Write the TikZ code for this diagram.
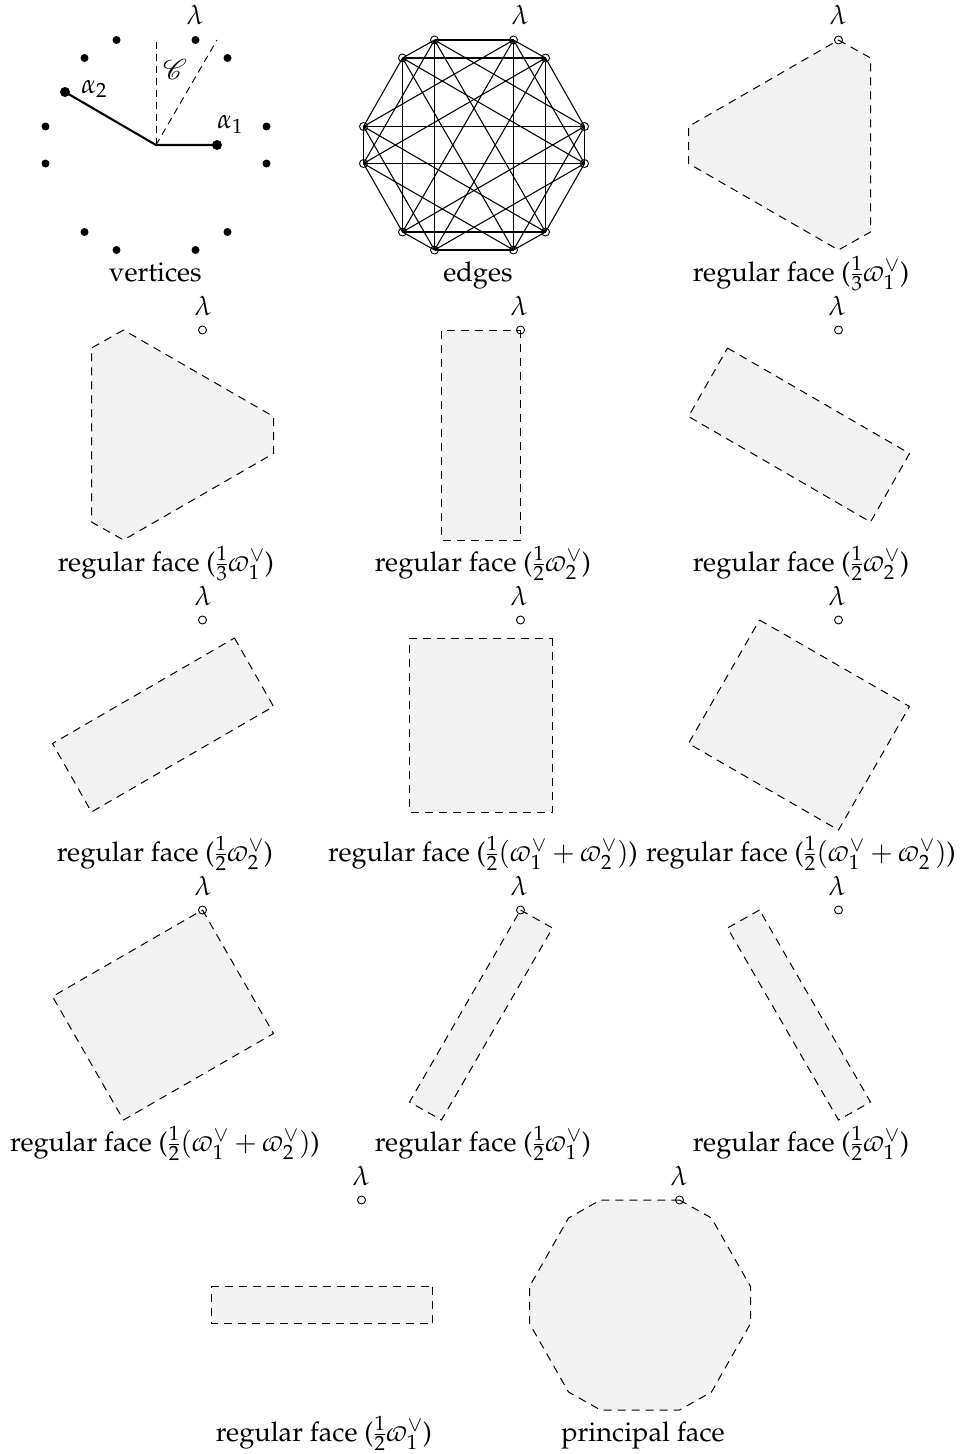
\documentclass[tikz,border=0pt]{standalone}
\usepackage[T1]{fontenc}
\usepackage{amsmath, amssymb, mathrsfs}
\usepackage{mathpazo}
\usepackage{tikz}

\newcommand{\rootring}{%
  \foreach \n/\x/\y in {1/39.5/-105, 2/71.5/-87, 3/110.5/-18.5, 4/110.5/18.5, 5/71.5/87, 6/39.5/105,
                        7/-39.5/105, 8/-71.5/87, 9/-110.5/18.5, 10/-110.5/-18.5, 11/-71.5/-87, 12/-39.5/-105}
    \coordinate (v\n) at (\x,\y);%
}

\begin{document}
\begin{tikzpicture}[
    x=1pt, y=-1pt,
    every node/.style={font=\fontsize{27.2}{32}\selectfont},
    face/.style={draw, line width=1pt, dash pattern=on 8pt off 6pt, fill=black!5},
    hollowdot/.style={draw, circle, inner sep=0pt, minimum size=8pt, line width=0.9pt},
    rootdot/.style={fill, circle, inner sep=0pt, minimum size=8pt},
    longdot/.style={fill, circle, inner sep=0pt, minimum size=10pt},
    caption/.style={anchor=base},
    lam/.style={anchor=base, inner sep=0pt},
    coneline/.style={line width=0.9pt, dash pattern=on 7pt off 5pt}
  ]
  \useasboundingbox (0,0) rectangle (961,1454);

  % Vertices
  \begin{scope}[shift={(156,145)}]
    \rootring
    \coordinate (o) at (0,0);
    \coordinate (c1) at (0,-105);
    \coordinate (c2) at (61,-105);
    \foreach \n in {1,...,12} \node[rootdot] (d\n) at (v\n) {};
    \node[longdot] (a1) at (61,0) {};
    \node[longdot] (a2) at (-91,-53) {};
    \draw[coneline] (o) -- (c1);
    \draw[coneline] (o) -- (c2);
    \draw[line width=2.1pt] (a2.center) -- (o) -- (a1.center);
    \node[anchor=base west, inner sep=0pt] (a1lab) at (61,-17) {$\alpha_1$};
    \node[anchor=base west, inner sep=0pt] (a2lab) at (-75,-52) {$\alpha_2$};
    \node[scale=1.15] (cone) at (19,-76) {$\mathscr{C}$};
  \end{scope}

  % Edges
  \begin{scope}[shift={(474,145)}]
    \rootring
    \foreach \n in {1,...,12} \node[hollowdot] (e\n) at (v\n) {};
    \foreach \n in {1,...,12}
      \foreach \s in {1,3,5} {
        \pgfmathtruncatemacro{\m}{mod(\n+\s-1,12)+1}
        \draw[line width=1.05pt] (v\n) -- (v\m);
      }
  \end{scope}

  % Regular faces, row by row
  \begin{scope}[shift={(799,145)}]
    \rootring
    \draw[face] (v1) -- (v2) -- (v5) -- (v6) -- (v9) -- (v10) -- cycle;
    \node[hollowdot] (p13) at (v1) {};
  \end{scope}

  \begin{scope}[shift={(163,435)}]
    \rootring
    \draw[face] (v12) -- (v11) -- (v8) -- (v7) -- (v4) -- (v3) -- cycle;
    \node[hollowdot] (p21) at (v1) {};
  \end{scope}
  \begin{scope}[shift={(481,435)}]
    \rootring
    \draw[face] (v1) -- (v6) -- (v7) -- (v12) -- cycle;
    \node[hollowdot] (p22) at (v1) {};
  \end{scope}
  \begin{scope}[shift={(799,435)}]
    \rootring
    \draw[face] (v11) -- (v4) -- (v5) -- (v10) -- cycle;
    \node[hollowdot] (p23) at (v1) {};
  \end{scope}

  \begin{scope}[shift={(163,725)}]
    \rootring
    \draw[face] (v2) -- (v3) -- (v8) -- (v9) -- cycle;
    \node[hollowdot] (p31) at (v1) {};
  \end{scope}
  \begin{scope}[shift={(481,725)}]
    \rootring
    \draw[face] (v2) -- (v5) -- (v8) -- (v11) -- cycle;
    \node[hollowdot] (p32) at (v1) {};
  \end{scope}
  \begin{scope}[shift={(799,725)}]
    \rootring
    \draw[face] (v12) -- (v3) -- (v6) -- (v9) -- cycle;
    \node[hollowdot] (p33) at (v1) {};
  \end{scope}

  \begin{scope}[shift={(163,1015)}]
    \rootring
    \draw[face] (v1) -- (v4) -- (v7) -- (v10) -- cycle;
    \node[hollowdot] (p41) at (v1) {};
  \end{scope}
  \begin{scope}[shift={(481,1015)}]
    \rootring
    \draw[face] (v1) -- (v2) -- (v7) -- (v8) -- cycle;
    \node[hollowdot] (p42) at (v1) {};
  \end{scope}
  \begin{scope}[shift={(799,1015)}]
    \rootring
    \draw[face] (v12) -- (v11) -- (v6) -- (v5) -- cycle;
    \node[hollowdot] (p43) at (v1) {};
  \end{scope}

  \begin{scope}[shift={(322,1305)}]
    \rootring
    \draw[face] (v3) -- (v4) -- (v9) -- (v10) -- cycle;
    \node[hollowdot] (p51) at (v1) {};
  \end{scope}

  % Principal face
  \begin{scope}[shift={(640,1305)}]
    \rootring
    \draw[face] (v1) -- (v2) -- (v3) -- (v4) -- (v5) -- (v6) -- (v7) -- (v8)
      -- (v9) -- (v10) -- (v11) -- (v12) -- cycle;
    \node[hollowdot] (p52) at (v1) {};
  \end{scope}

  % Lambda labels
  \foreach \x/\y [count=\i] in {195/24, 520/24, 838/24, 203/315, 519/315, 837/315,
                                203/605, 519/605, 837/605, 203/895, 519/895, 837/895,
                                361/1185, 679/1185}
    \node[lam] (lam\i) at (\x,\y) {$\lambda$};

  % Captions
  \node[caption] (cap11) at (155.5,281) {vertices};
  \node[caption] (cap12) at (478,281) {edges};
  \node[caption] (cap13) at (801,281) {regular face ($\frac{1}{3}\varpi_1^\vee$)};
  \node[caption] (cap21) at (166,571) {regular face ($\frac{1}{3}\varpi_1^\vee$)};
  \node[caption] (cap22) at (483,571) {regular face ($\frac{1}{2}\varpi_2^\vee$)};
  \node[caption] (cap23) at (801,571) {regular face ($\frac{1}{2}\varpi_2^\vee$)};
  \node[caption] (cap31) at (165,861) {regular face ($\frac{1}{2}\varpi_2^\vee$)};
  \node[caption] (cap32) at (483,861) {regular face ($\frac{1}{2}(\varpi_1^\vee+\varpi_2^\vee)$)};
  \node[caption] (cap33) at (801,861) {regular face ($\frac{1}{2}(\varpi_1^\vee+\varpi_2^\vee)$)};
  \node[caption] (cap41) at (165,1151) {regular face ($\frac{1}{2}(\varpi_1^\vee+\varpi_2^\vee)$)};
  \node[caption] (cap42) at (483,1151) {regular face ($\frac{1}{2}\varpi_1^\vee$)};
  \node[caption] (cap43) at (801,1151) {regular face ($\frac{1}{2}\varpi_1^\vee$)};
  \node[caption] (cap51) at (324,1441) {regular face ($\frac{1}{2}\varpi_1^\vee$)};
  \node[caption] (cap52) at (643,1441) {principal face};
\end{tikzpicture}
\end{document}
